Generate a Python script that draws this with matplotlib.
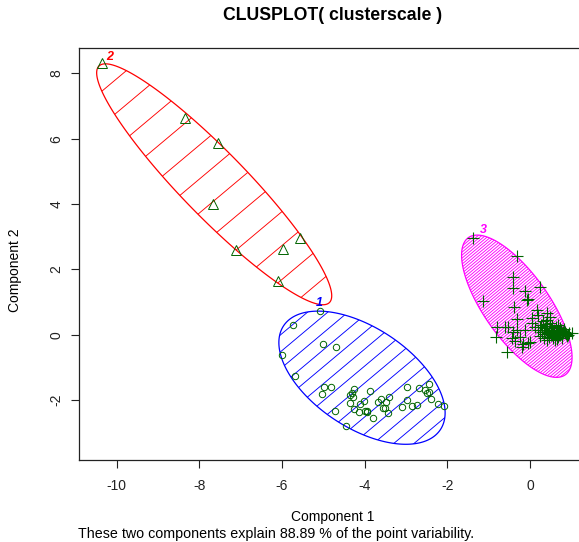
import numpy as np
import matplotlib
matplotlib.use('Agg')
import matplotlib.pyplot as plt
from matplotlib.patches import Polygon
from matplotlib.collections import LineCollection

plt.rcParams['font.family'] = ['Liberation Sans', 'DejaVu Sans']
plt.rcParams['axes.unicode_minus'] = False

# --- data (component 1 / component 2 scores) ---
# cluster 1: circles
c1_x = [-5.08, -5.74, -6.01, -5.00, -4.69, -5.69, -4.98, -4.82, -5.03, -4.26,
        -4.31, -4.36, -4.28, -4.36, -3.87, -4.71, -4.26, -4.11, -4.01, -4.14,
        -3.99, -3.95, -3.94, -4.44, -3.79, -3.67, -3.61, -3.49, -3.40, -3.56,
        -3.51, -3.44, -3.10, -2.98, -2.97, -2.68, -2.54, -2.45, -2.44, -2.50,
        -2.85, -2.74, -2.39, -2.22, -2.08]
c1_y = [0.73, 0.30, -0.62, -0.27, -0.36, -1.25, -1.59, -1.59, -1.81, -1.67,
        -1.77, -1.84, -1.90, -2.08, -1.73, -2.32, -2.27, -2.12, -2.02, -2.35,
        -2.33, -2.32, -2.35, -2.78, -2.56, -2.05, -1.97, -2.07, -1.91, -2.25,
        -2.25, -2.38, -2.22, -2.00, -1.60, -1.62, -1.69, -1.51, -1.74, -1.79,
        -2.17, -2.15, -1.97, -2.13, -2.18]

# cluster 2: triangles
c2_x = [-10.36, -8.34, -7.56, -7.66, -7.11, -5.98, -5.56, -6.10]
c2_y = [8.33, 6.65, 5.86, 3.99, 2.60, 2.62, 2.96, 1.66]

# cluster 3: plus signs
c3_x = [-1.37, -0.31, -0.42, -0.42, -0.12, 0.23, -0.04, -1.13, -0.39, -0.32,
        -0.79, -0.53, -0.82, -0.32, -0.12, -0.44, -0.24, -0.36, -0.16, -0.04,
        -0.20, -0.56, 0.04, 0.16, 0.40, 0.40, 0.04, 0.12, 0.24, -0.08,
        -0.61, -0.40, 0.00, 0.20, 0.48,
        0.19, 0.29, 0.36, 0.44, 0.51, 0.58, 0.65, 0.73, 0.80, 0.87,
        0.94, 1.02, 0.24, 0.34, 0.46, 0.56, 0.68, 0.77, 0.39, 0.53,
        0.63, 0.73, 0.27, 0.41, 0.61, 0.82, 0.90, 0.32, 0.48, 0.68,
        0.30, 0.45, 0.55, 0.62, 0.70, 0.78, 0.85, 0.92, 0.50, 0.60,
        0.35, 0.75, 0.66, 0.52, 0.42]
c3_y = [2.95, 2.41, 1.76, 1.42, 1.35, 1.45, 1.10, 1.04, 0.84, 0.48,
        0.25, 0.23, -0.08, 0.15, 0.15, -0.11, -0.06, -0.18, -0.28, -0.26,
        -0.36, -0.54, 0.51, 0.76, 0.66, 0.45, 0.35, 0.25, 0.23, 1.07,
        0.25, 0.10, -0.21, 0.61, 0.55,
        0.15, 0.09, 0.21, 0.06, 0.15, 0.02, 0.12, -0.01, 0.09, 0.02,
        0.06, 0.06, -0.04, -0.10, -0.07, -0.10, -0.07, -0.10, 0.33, 0.27,
        0.24, 0.21, 0.30, -0.16, -0.16, 0.18, -0.04, 0.42, 0.36, 0.30,
        0.15, 0.12, 0.10, 0.05, 0.12, 0.04, 0.10, 0.00, 0.00, -0.03,
        0.02, 0.16, -0.12, 0.22, 0.28]

# spanning ellipses: centre and two conjugate semi-axes (data units)
ell_center = [(-4.065, -1.313), (-7.641, 4.607), (-0.319, 0.875)]
ell_axis_a = [(1.897, -1.589), (2.787, -3.621), (1.171, -2.100)]
ell_axis_b = [(0.668, 1.276), (0.564, 0.695), (0.644, 0.575)]
clus_names = ['1', '2', '3']
label_x = [-5.09, -10.17, -1.12]
label_y = [0.98, 8.51, 3.21]

explained = 88.89

# --- style ---
clus_colors = ['blue', 'red', 'magenta']
hatch_gap = [13.0, 26.0, 2.3]   # pixels between shading lines
pt_color = '#006400'

W, H = 579, 542
fig = plt.figure(figsize=(W / 100, H / 100), dpi=100)
ax = fig.add_axes([78.5 / W, 1 - 460 / H, 509 / W, 412.5 / H])
ax.set_xlim(-10.924, 1.391)
ax.set_ylim(-3.832, 8.794)


def shade_ellipse(ax, center, va, vb, color, gap, angle=40):
    t = np.linspace(0, 2 * np.pi, 240)
    c = np.array(center)
    verts = c + np.outer(np.cos(t), va) + np.outer(np.sin(t), vb)
    patch = Polygon(verts, closed=True, fill=False, edgecolor=color, lw=0.9)
    ax.add_patch(patch)
    # shading lines built in pixel space so the angle/gap match the device
    pix = ax.transData.transform(verts)
    pc = pix.mean(axis=0)
    r = np.max(np.hypot(*(pix - pc).T)) + 2
    d = np.array([np.cos(np.radians(angle)), np.sin(np.radians(angle))])
    n = np.array([-d[1], d[0]])
    inv = ax.transData.inverted()
    segs = []
    for k in np.arange(-r, r, gap):
        p0 = pc + n * k - d * r
        p1 = pc + n * k + d * r
        segs.append(inv.transform(np.array([p0, p1])))
    lc = LineCollection(segs, colors=color, linewidths=0.65)
    lc.set_clip_path(patch)
    ax.add_collection(lc, autolim=False)


for i in range(3):
    shade_ellipse(ax, ell_center[i], ell_axis_a[i], ell_axis_b[i],
                  clus_colors[i], hatch_gap[i])

ax.plot(c1_x, c1_y, 'o', mfc='none', mec=pt_color, ms=4.6, mew=0.7, ls='none')
ax.plot(c2_x, c2_y, '^', mfc='none', mec=pt_color, ms=6.5, mew=0.7, ls='none')
ax.plot(c3_x, c3_y, '+', color=pt_color, ms=8, mew=0.8, ls='none')

for i in range(3):
    ax.text(label_x[i], label_y[i], clus_names[i], color=clus_colors[i],
            fontsize=9, fontweight='bold', style='italic',
            ha='center', va='center')

ax.set_xlim(-10.924, 1.391)
ax.set_ylim(-3.832, 8.794)
ax.set_xticks(np.arange(-10, 1, 2))
ax.set_yticks(np.arange(-2, 9, 2))
ax.set_yticklabels([str(v) for v in range(-2, 9, 2)], rotation=90, va='center')
ax.tick_params(direction='out', length=6, width=0.8, labelsize=10,
               colors='#222222')
ax.tick_params(axis='x', pad=8)
ax.tick_params(axis='y', pad=5)
for s in ax.spines.values():
    s.set_linewidth(0.9)
    s.set_color('#222222')

fig.text(333 / W, 1 - 15 / H, 'CLUSPLOT( clusterscale )', ha='center',
         va='center', fontsize=12.7, fontweight='bold')
fig.text(333 / W, 1 - 517 / H, 'Component 1', ha='center', va='center',
         fontsize=10)
fig.text(15 / W, 1 - 270 / H, 'Component 2', ha='center', va='center',
         rotation=90, fontsize=10)
fig.text(78 / W, 1 - 534 / H,
         f'These two components explain {explained} % of the point variability.',
         ha='left', va='center', fontsize=10.3)

fig.savefig('out.png', dpi=100)
